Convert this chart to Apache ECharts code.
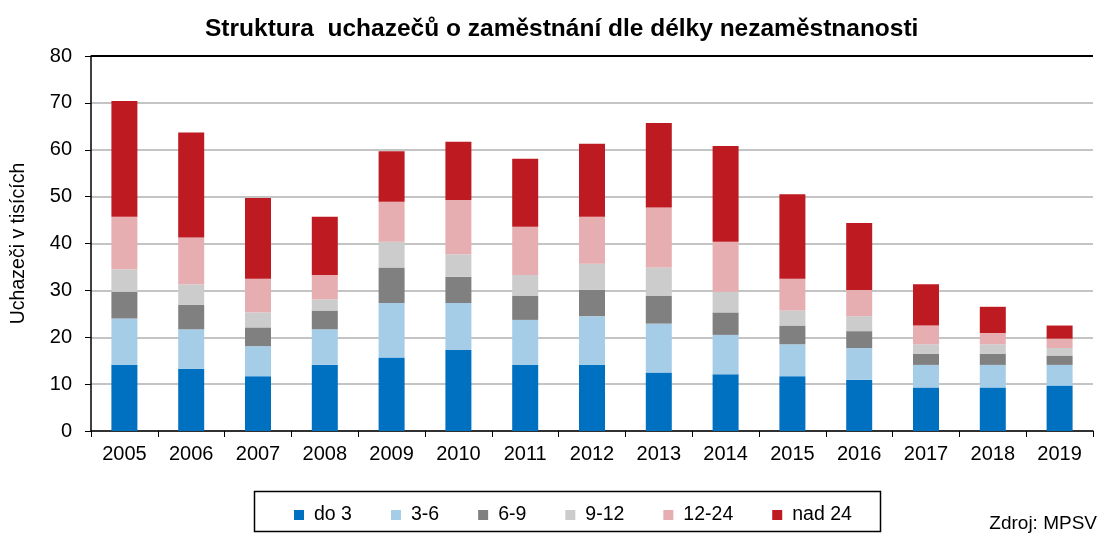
<!DOCTYPE html>
<html><head><meta charset="utf-8">
<script src="https://cdn.jsdelivr.net/npm/echarts@6/dist/echarts.min.js"></script>
<style>html,body{margin:0;padding:0;background:#fff}#c{width:1097px;height:534px}</style>
</head><body><div id="c"></div>
<script>
const years = ['2005','2006','2007','2008','2009','2010','2011','2012','2013','2014','2015','2016','2017','2018','2019'];
const seriesNames = ['do 3','3-6','6-9','9-12','12-24','nad 24'];
const do3   = [14.1,13.3,11.7,14.1,15.7,17.3,14.1,14.1,12.5,12.1,11.7,10.9,9.3,9.3,9.7];
const m3_6  = [9.9,8.4,6.4,7.6,11.6,10.0,9.6,10.4,10.4,8.4,6.8,6.8,4.8,4.8,4.4];
const m6_9  = [5.7,5.2,4.0,4.0,7.6,5.6,5.1,5.6,5.9,4.8,4.0,3.6,2.4,2.4,2.0];
const m9_12 = [4.8,4.4,3.2,2.4,5.5,4.8,4.5,5.6,6.1,4.4,3.2,3.2,2.0,2.0,1.6];
const m12_24= [11.2,10.0,7.2,5.2,8.5,11.6,10.3,10.0,12.8,10.7,6.8,5.6,4.0,2.4,2.0];
const nad24 = [24.7,22.4,17.2,12.4,10.8,12.4,14.5,15.6,18.0,20.4,18.0,14.3,8.8,5.6,2.8];
const yTicks = [0,10,20,30,40,50,60,70,80];
const colors = ['#0070C0','#A6CDE8','#808080','#CCCCCC','#E6AEB1','#BE1A22'];
const allData = [do3,m3_6,m6_9,m9_12,m12_24,nad24];

const chart = echarts.init(document.getElementById('c'));
const font = '"Liberation Sans", Arial, sans-serif';
const gridColors = yTicks.map((v,i)=> i===yTicks.length-1 ? '#000' : '#c4c4c4');
chart.setOption({
  animation:false,
  textStyle:{fontFamily:font},
  title:{text:'Struktura  uchazečů o zaměstnání dle délky nezaměstnanosti',left:200,top:12,
    textStyle:{fontFamily:'"Liberation Sans Narrow", "Liberation Sans", Arial, sans-serif',fontSize:24.5,fontWeight:'bold',color:'#000'}},
  grid:{left:91,right:4,top:56,bottom:103},
  legend:{left:289,top:500,itemWidth:10,itemHeight:10,itemGap:39,icon:'rect',
    textStyle:{fontFamily:font,fontSize:19.5,color:'#000',padding:[0,0,0,5]},data:seriesNames},
  graphic:[
    {type:'rect',shape:{x:254.5,y:491.5,width:626,height:40},style:{fill:null,stroke:'#000',lineWidth:1.5}},
    {type:'text',right:0,top:514,style:{text:'Zdroj: MPSV',font:'19px "Liberation Sans", Arial',fill:'#000'}}
  ],
  xAxis:{type:'category',data:years,
    axisLine:{lineStyle:{color:'#000',width:1.5}},
    axisTick:{show:true,length:6,lineStyle:{color:'#000'}},
    axisLabel:{fontSize:20,color:'#000',margin:13,fontFamily:font}},
  yAxis:{type:'value',min:0,max:80,interval:10,
    name:'Uchazeči v tisících',nameLocation:'middle',nameGap:62,
    nameTextStyle:{fontSize:19.5,color:'#000',fontFamily:font},
    axisLine:{show:true,lineStyle:{color:'#000',width:1.5}},
    axisTick:{show:true,length:6,lineStyle:{color:'#000'}},
    axisLabel:{fontSize:20,color:'#000',margin:19,fontFamily:font,
      formatter:v=>yTicks.includes(v)?String(v):''},
    splitLine:{lineStyle:{color:gridColors,width:2}}},
  series:allData.map((d,i)=>({name:seriesNames[i],type:'bar',stack:'s',data:d,barWidth:26,
    itemStyle:{color:colors[i]}}))
});
</script></body></html>
